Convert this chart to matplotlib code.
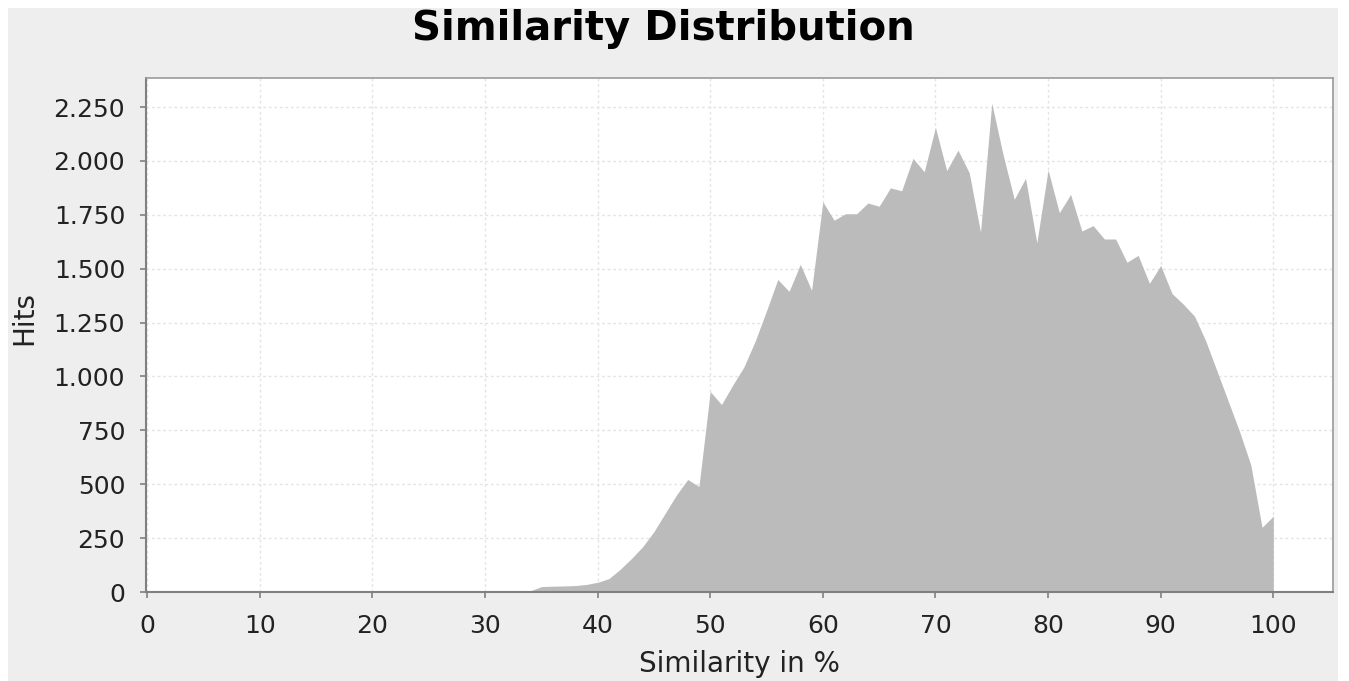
import matplotlib
matplotlib.use("Agg")
import matplotlib.pyplot as plt
from matplotlib.patches import Rectangle

# ---- data ----
similarity = list(range(34, 101))
hits = [5, 25, 27, 28, 30, 35, 45, 62, 105, 155,
        210, 280, 365, 450, 522, 490, 930, 870, 960, 1045,
        1165, 1305, 1450, 1395, 1520, 1400, 1810, 1725, 1755, 1755,
        1805, 1790, 1875, 1862, 2012, 1950, 2155, 1955, 2050, 1945,
        1670, 2268, 2030, 1822, 1920, 1620, 1958, 1760, 1845, 1675,
        1700, 1638, 1638, 1530, 1562, 1432, 1515, 1385, 1336, 1280,
        1165, 1025, 885, 745, 590, 300, 352]
x_ticks = list(range(0, 101, 10))
y_ticks = list(range(0, 2251, 250))
y_tick_labels = ["0", "250", "500", "750", "1.000", "1.250", "1.500",
                 "1.750", "2.000", "2.250"]
title = "Similarity Distribution"
x_label = "Similarity in %"
y_label = "Hits"

W, H = 1349, 681
fig = plt.figure(figsize=(W / 100, H / 100), dpi=100, facecolor="white")
bg = Rectangle((8 / W, 0), 1330 / W, 673 / H, transform=fig.transFigure,
               facecolor="#EEEEEE", edgecolor="none", zorder=-10)
fig.add_artist(bg)

ax = fig.add_axes([146 / W, 1 - 592 / H, (1333 - 146) / W, (592 - 78) / H])
ax.set_zorder(1)
ax.set_facecolor("white")

ax.fill_between(similarity, hits, 0, color="#BBBBBB", linewidth=0, zorder=2)

ax.set_xlim(-0.1, 105.3)
ax.set_ylim(0, 2385)
ax.set_xticks(x_ticks)
ax.set_yticks(y_ticks)
ax.set_yticklabels(y_tick_labels)

ax.grid(True, color="#E4E4E4", linestyle=(0, (2, 2)), linewidth=1, zorder=1)
ax.set_axisbelow(True)

for side in ["top", "right"]:
    ax.spines[side].set_color("#9A9A9A")
    ax.spines[side].set_linewidth(1.2)
for side in ["left", "bottom"]:
    ax.spines[side].set_color("#808080")
    ax.spines[side].set_linewidth(1.5)

ax.tick_params(axis="both", direction="out", length=4, width=1.2, color="#808080",
               labelsize=18, labelcolor="#222222")
ax.tick_params(axis="x", pad=12)
ax.tick_params(axis="y", pad=11)

ax.set_xlabel(x_label, fontsize=20, color="#222222")
ax.xaxis.set_label_coords(0.5, -0.113)
ax.set_ylabel(y_label, fontsize=20, color="#222222")
ax.yaxis.set_label_coords(-0.091, 0.533)

fig.text(663 / W, 1 - 40 / H, title, ha="center", va="baseline",
         fontsize=29, fontweight="bold", color="black", zorder=2)

fig.savefig("out.png", dpi=100, facecolor=fig.get_facecolor())
